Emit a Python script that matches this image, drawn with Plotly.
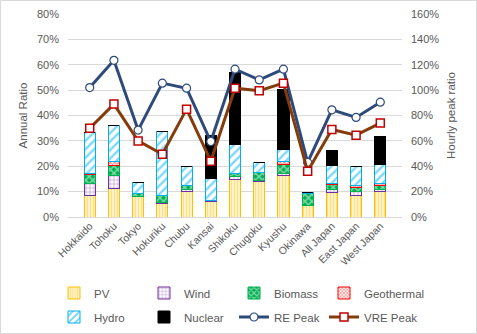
import plotly.graph_objects as go

regions = ["Hokkaido", "Tohoku", "Tokyo", "Hokuriku", "Chubu", "Kansai", "Shikoku",
           "Chugoku", "Kyushu", "Okinawa", "All Japan", "East Japan", "West Japan"]

# Annual ratio by source (% of demand)
pv = [8.6, 11.2, 7.9, 5.3, 10.2, 6.2, 14.9, 13.8, 16.2, 4.6, 9.5, 8.6, 10.2]
wind = [4.6, 5.0, 0.2, 0.6, 0.7, 0.3, 0.9, 0.4, 0.9, 0.1, 1.4, 1.6, 0.7]
biomass = [3.6, 4.2, 1.3, 2.4, 1.4, 0.2, 1.3, 3.3, 3.7, 4.4, 1.9, 1.3, 1.6]
geothermal = [0.4, 1.6, 0.0, 0.0, 0.0, 0.0, 0.0, 0.0, 1.1, 0.0, 0.4, 0.8, 0.7]
hydro = [16.2, 14.0, 4.2, 25.3, 7.7, 8.5, 11.6, 3.8, 4.9, 0.5, 7.2, 7.7, 7.6]
nuclear = [0.0, 0.0, 0.0, 0.0, 0.0, 17.1, 28.2, 0.0, 23.3, 0.0, 6.0, 0.0, 11.1]

# Hourly peak ratio (%)
re_peak = [102, 123.5, 68.5, 105.5, 101.5, 59.5, 116.5, 108, 116.5, 43, 84.5, 78.5, 90.5]
vre_peak = [70, 89, 60, 49.5, 85, 44, 101.5, 99.5, 105.5, 36, 69, 64.5, 74]

grid_col = "#D9D9D9"
text_col = "#595959"
font_family = "Liberation Sans"

W, H = 477, 334
ml, mr, mt, mb = 68, 75, 14, 117
pw, ph = W - ml - mr, H - mt - mb


def px_x(px):
    return (px - ml) / pw


def px_y(py):
    return (mt + ph - py) / ph


fig = go.Figure()


def add_bar(name, values, color, shape, legend, bg="white", size=4, solidity=0.5):
    fig.add_trace(go.Bar(
        name=name, x=regions, y=values, legend=legend,
        marker=dict(
            color=bg,
            line=dict(color=color, width=1),
            pattern=dict(shape=shape, fgcolor=color, bgcolor=bg, size=size,
                         solidity=solidity, fillmode="overlay"),
        ),
    ))


add_bar("PV", pv, "#FFC000", "|", "legend", size=3, solidity=0.62)
add_bar("Wind", wind, "#7030A0", "+", "legend", size=4, solidity=0.3)
fig.add_trace(go.Bar(
    name="Biomass", x=regions, y=biomass, legend="legend",
    marker=dict(color="#00B050", line=dict(color="#00B050", width=1),
                pattern=dict(shape="x", fgcolor="white", bgcolor="#00B050",
                             size=5, solidity=0.5, fillmode="overlay")),
))
add_bar("Geothermal", geothermal, "#FF0000", "x", "legend3", size=3, solidity=0.5)
add_bar("Hydro", hydro, "#00B0F0", "/", "legend2", size=6, solidity=0.4)
fig.add_trace(go.Bar(
    name="Nuclear", x=regions, y=nuclear, legend="legend2",
    marker=dict(color="black", line=dict(color="black", width=1)),
))

fig.add_trace(go.Scatter(
    name="RE Peak", x=regions, y=re_peak, yaxis="y2", mode="lines+markers",
    legend="legend2",
    line=dict(color="#2E4A7A", width=3),
    marker=dict(symbol="circle", size=8, color="white",
                line=dict(color="#2E4A7A", width=1.2)),
))
fig.add_trace(go.Scatter(
    name="VRE Peak", x=regions, y=vre_peak, yaxis="y2", mode="lines+markers",
    legend="legend4",
    line=dict(color="#843C0C", width=3),
    marker=dict(symbol="square", size=8, color="white",
                line=dict(color="#C00000", width=1.5)),
))

legend_common = dict(orientation="h", xanchor="left", yanchor="middle",
                     font=dict(size=11.5, color=text_col), traceorder="normal",
                     itemwidth=30, bgcolor="rgba(0,0,0,0)")
row1, row2 = px_y(293), px_y(317)
col1, col4 = px_x(54), px_x(54 + 270)

fig.update_layout(
    width=W, height=H,
    margin=dict(l=ml, r=mr, t=mt, b=mb, pad=0, autoexpand=False),
    barmode="stack", bargap=0.54,
    paper_bgcolor="white", plot_bgcolor="white",
    font=dict(family=font_family, size=11, color=text_col),
    xaxis=dict(tickangle=-45, tickfont=dict(size=10.5, color=text_col),
               showgrid=False, showline=False, ticks=""),
    yaxis=dict(range=[0, 80], dtick=10, ticksuffix="%",
               showgrid=True, gridcolor=grid_col, gridwidth=1,
               zeroline=True, zerolinecolor=grid_col, zerolinewidth=1,
               tickfont=dict(size=11, color=text_col), ticklabelstandoff=8,
               title=dict(text="Annual Ratio", font=dict(size=11.5, color=text_col), standoff=6)),
    yaxis2=dict(range=[0, 160], dtick=20, ticksuffix="%", overlaying="y", side="right",
                showgrid=False, zeroline=False,
                tickfont=dict(size=11, color=text_col), ticklabelstandoff=8,
                title=dict(text="Hourly peak ratio", font=dict(size=11.5, color=text_col), standoff=8)),
    legend=dict(x=col1, y=row1, entrywidth=45, entrywidthmode="pixels", **legend_common),
    legend2=dict(x=col1, y=row2, entrywidth=45, entrywidthmode="pixels", **legend_common),
    legend3=dict(x=col4, y=row1, **legend_common),
    legend4=dict(x=col4, y=row2, **legend_common),
    showlegend=True,
)

# light chart-area border
fig.add_shape(type="rect", xref="paper", yref="paper",
              x0=px_x(0.5), x1=px_x(W - 0.5),
              y0=px_y(H - 0.5), y1=px_y(0.5),
              line=dict(color="#D9D9D9", width=1), layer="below")

fig.write_html("out.html")
